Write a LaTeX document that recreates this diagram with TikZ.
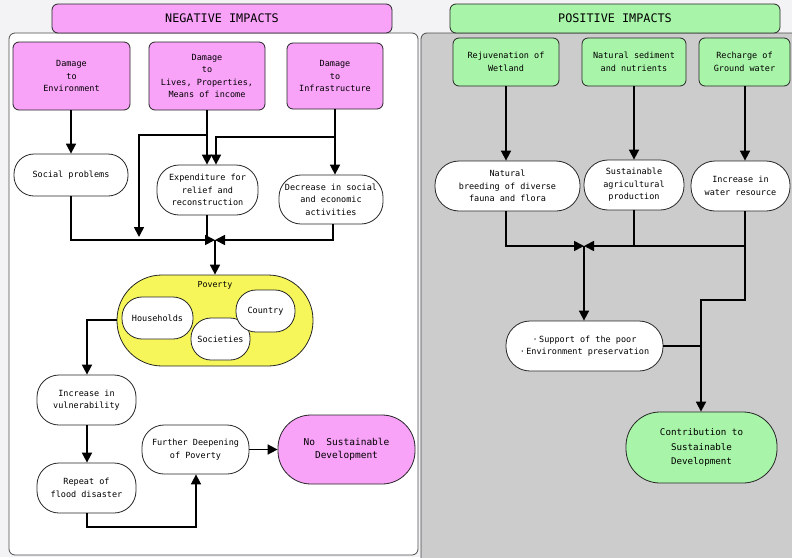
\documentclass[tikz,border=0pt]{standalone}
\usepackage{fontspec}
\setmainfont{DejaVu Sans Mono}
\usetikzlibrary{arrows.meta}
\definecolor{bgc}{HTML}{F3F3F5}
\definecolor{pinkfill}{HTML}{F8A2F8}
\definecolor{greenfill}{HTML}{A8F4A8}
\definecolor{yellowfill}{HTML}{F6F65A}
\definecolor{panelgray}{HTML}{CCCCCC}
\tikzset{
  box/.style={draw=black!85, line width=0.8pt, inner sep=0pt, align=center,
    font=\fontsize{8.5}{12.5}\selectfont},
  pinkbox/.style={box, fill=pinkfill, rounded corners=6pt},
  greenbox/.style={box, fill=greenfill, rounded corners=6pt},
  whitebox/.style={box, fill=white},
  banner/.style={box, rounded corners=6pt, font=\fontsize{11.8}{14}\selectfont},
  conn/.style={line width=1.7pt, -{Triangle[width=10pt,length=10pt]}},
  wire/.style={line width=1.7pt},
}
\begin{document}
\begin{tikzpicture}[x=1pt,y=-1pt]
\fill[bgc] (0,0) rectangle (792,557);
\useasboundingbox (0,0) rectangle (792,557);
% panels
\draw[fill=white, draw=black!70, line width=0.8pt, rounded corners=6pt] (9,33) rectangle (418,555);
\draw[fill=panelgray, draw=black!70, line width=0.8pt, rounded corners=6pt] (421,33) rectangle (800,565);
% banners
\node[banner, fill=pinkfill, minimum width=340pt, minimum height=29pt] (negban) at (222,18.5) {NEGATIVE IMPACTS};
\node[banner, fill=greenfill, minimum width=330pt, minimum height=29pt] (posban) at (615,18.5) {POSITIVE IMPACTS};
% negative side
\node[pinkbox, minimum width=117pt, minimum height=68pt] (env) at (71.5,76) {Damage\\to\\Environment};
\node[pinkbox, minimum width=116pt, minimum height=68pt] (lives) at (207,76) {Damage\\to\\Lives, Properties,\\Means of income};
\node[pinkbox, minimum width=96pt, minimum height=66pt] (infra) at (335,76) {Damage\\to\\Infrastructure};
\node[whitebox, rounded corners=20pt, minimum width=114pt, minimum height=42pt] (social) at (71,175) {Social problems};
\node[whitebox, rounded corners=22pt, minimum width=101pt, minimum height=50pt] (expend) at (207.5,190) {Expenditure for\\relief and\\reconstruction};
\node[whitebox, rounded corners=22pt, minimum width=104pt, minimum height=49pt] (decr) at (331,199.5) {Decrease in social\\and economic\\activities};
\node[box, fill=yellowfill, rounded corners=45pt, minimum width=196pt, minimum height=91pt] (poverty) at (215,320.5) {};
\node[font=\fontsize{8.3}{10}\selectfont] (povlabel) at (215,285) {Poverty};
\node[whitebox, rounded corners=20pt, minimum width=59pt, minimum height=42pt] (societies) at (220.5,339) {Societies};
\node[whitebox, rounded corners=20pt, minimum width=71pt, minimum height=42pt] (house) at (157.5,318) {Households};
\node[whitebox, rounded corners=20pt, minimum width=59pt, minimum height=42pt] (country) at (265.5,311) {Country};
\node[whitebox, rounded corners=22pt, minimum width=99pt, minimum height=50pt] (incr) at (86.5,400) {Increase in\\vulnerability};
\node[whitebox, rounded corners=22pt, minimum width=99pt, minimum height=50pt] (repeat) at (86.5,488) {Repeat of\\flood disaster};
\node[whitebox, rounded corners=22pt, minimum width=107pt, minimum height=49pt] (further) at (195.5,449.5) {Further Deepening\\of Poverty};
\node[box, fill=pinkfill, rounded corners=33pt, minimum width=137pt, minimum height=69pt, font=\fontsize{9.5}{13.5}\selectfont] (nosd) at (346.5,449.5) {No\ \ Sustainable\\Development};
% positive side
\node[greenbox, minimum width=106pt, minimum height=48pt] (rejuv) at (506,62) {Rejuvenation of\\Wetland};
\node[greenbox, minimum width=104pt, minimum height=48pt] (sediment) at (634,62) {Natural sediment\\and nutrients};
\node[greenbox, minimum width=91pt, minimum height=48pt] (recharge) at (744.5,62) {Recharge of\\Ground water};
\node[whitebox, rounded corners=24pt, minimum width=145pt, minimum height=50pt] (breeding) at (507.5,186) {Natural\\breeding of diverse\\fauna and flora};
\node[whitebox, rounded corners=24pt, minimum width=100pt, minimum height=50pt] (sustag) at (634,185) {Sustainable\\agricultural\\production};
\node[whitebox, rounded corners=24pt, minimum width=99pt, minimum height=50pt] (water) at (740.5,186) {Increase in\\water resource};
\node[whitebox, rounded corners=24pt, minimum width=157pt, minimum height=50pt] (support) at (584.5,346) {·\,Support of the poor\\·\,Environment preservation};
\node[box, fill=greenfill, rounded corners=34pt, minimum width=151pt, minimum height=71pt, font=\fontsize{9.2}{14.5}\selectfont] (contrib) at (701.5,447.5) {Contribution to\\Sustainable\\Development};
% junction coordinates
\coordinate (bus) at (215,240);
\coordinate (lbranch) at (207,135);
\coordinate (lbranchend) at (139,237);
\coordinate (ibranch) at (335,137);
\coordinate (pleft) at (117,320);
\coordinate (rbus) at (584,246);
\coordinate (wjoin) at (745,246);
\coordinate (wturn) at (745,300);
\coordinate (cjoin) at (701,346);
% negative connectors
\draw[conn] (env.south -| social.north) -- (social.north);
\draw[conn] (lives.south) -- (expend.north -| lives.south);
\draw[conn] (lbranch) -| (lbranchend);
\draw[conn] (infra.south) -- (infra.south |- decr.north);
\draw[conn] (ibranch) -- (216,137) -- (216,0 |- expend.north);
\draw[conn] (social.south) |- (bus);
\draw[wire] (expend.south -| lives.south) -- (lives.south |- bus);
\draw[conn] (333,0 |- decr.south) |- (bus);
\draw[conn] (bus) -- (bus |- poverty.north);
\draw[conn] (pleft) -- (87,320) -- (87,0 |- incr.north);
\draw[conn] (incr.south -| 87,0) -- (87,0 |- repeat.north);
\draw[conn] (repeat.south -| 87,0) -- (87,527) -- (196,527) -- (196,0 |- further.south);
\draw[conn] (further.east) -- (nosd.west);
% positive connectors
\draw[conn] (rejuv.south) -- (rejuv.south |- breeding.north);
\draw[conn] (sediment.south) -- (sediment.south |- sustag.north);
\draw[conn] (recharge.south -| 745,0) -- (745,0 |- water.north);
\draw[conn] (506,0 |- breeding.south) |- (rbus);
\draw[wire] (sustag.south) -- (sustag.south |- rbus);
\draw[conn] (745,0 |- water.south) -- (wjoin) -- (rbus);
\draw[conn] (wjoin) -- (wturn) -- (701,300) -- (701,0 |- contrib.north);
\draw[conn] (rbus) -- (rbus |- support.north);
\draw[wire] (support.east) -- (cjoin);
\end{tikzpicture}
\end{document}
